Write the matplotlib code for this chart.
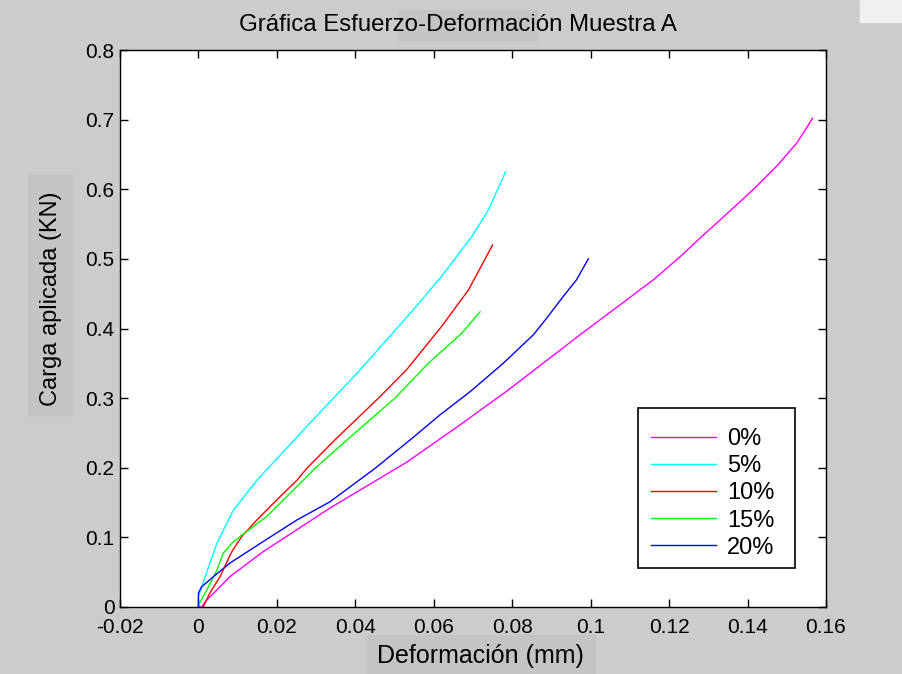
import matplotlib
matplotlib.use("Agg")
import matplotlib.pyplot as plt
from matplotlib.patches import Rectangle

plt.rcParams['font.family'] = ['Liberation Sans', 'DejaVu Sans']

# curvas: deformacion (mm) vs carga (KN)
def_0 = [0, 0.0008, 0.0021, 0.0046, 0.008, 0.0165, 0.0251, 0.0335, 0.0531, 0.0658, 0.0786,
         0.0973, 0.1075, 0.116, 0.1228, 0.1283, 0.1338, 0.1419, 0.1474, 0.1525, 0.1566]
carga_0 = [0, 0.0, 0.010, 0.024, 0.0435, 0.0795, 0.111, 0.142, 0.208, 0.258, 0.310,
           0.391, 0.434, 0.470, 0.503, 0.532, 0.560, 0.602, 0.633, 0.666, 0.702]

def_5 = [0, 0.0, 0.0017, 0.0047, 0.0089, 0.0149, 0.0284, 0.0408, 0.0548, 0.062, 0.0697, 0.0739, 0.0783]
carga_5 = [0, 0.015, 0.0435, 0.0915, 0.139, 0.182, 0.264, 0.338, 0.427, 0.475, 0.532, 0.570, 0.625]

def_10 = [0.0012, 0.0029, 0.0055, 0.0085, 0.011, 0.0149, 0.02, 0.0251, 0.0276, 0.0348,
          0.0459, 0.0531, 0.062, 0.0663, 0.0688, 0.075]
carga_10 = [0, 0.020, 0.0435, 0.0795, 0.101, 0.125, 0.154, 0.182, 0.199, 0.240,
            0.300, 0.341, 0.403, 0.436, 0.455, 0.520]

def_15 = [0, 0.0002, 0.0021, 0.0047, 0.0063, 0.0085, 0.011, 0.0174, 0.0267, 0.0297,
          0.0399, 0.0501, 0.0586, 0.0671, 0.0718]
carga_15 = [0, 0.005, 0.024, 0.053, 0.077, 0.0915, 0.103, 0.130, 0.182, 0.199,
            0.250, 0.300, 0.350, 0.393, 0.424]

def_20 = [0, 0, 0, 0.0008, 0.0038, 0.008, 0.0165, 0.0251, 0.0335, 0.045, 0.0544, 0.0616,
          0.0692, 0.0777, 0.0854, 0.0888, 0.093, 0.0964, 0.0994]
carga_20 = [0, 0.010, 0.020, 0.029, 0.0435, 0.063, 0.094, 0.125, 0.151, 0.199, 0.242, 0.276,
            0.309, 0.350, 0.391, 0.415, 0.446, 0.470, 0.500]

etiquetas = ['0%', '5%', '10%', '15%', '20%']
colores = ['#ff00ff', '#00ffff', '#ff0000', '#00ff00', '#0000ff']

xticks = [-0.02, 0, 0.02, 0.04, 0.06, 0.08, 0.1, 0.12, 0.14, 0.16]
xticklabels = ['-0.02', '0', '0.02', '0.04', '0.06', '0.08', '0.1', '0.12', '0.14', '0.16']
yticks = [0, 0.1, 0.2, 0.3, 0.4, 0.5, 0.6, 0.7, 0.8]
yticklabels = ['0', '0.1', '0.2', '0.3', '0.4', '0.5', '0.6', '0.7', '0.8']

fig = plt.figure(figsize=(9.03, 6.74), dpi=100, facecolor='#cccccc')

# recuadros de seleccion detras de los textos (pixeles -> coordenadas de figura)
W, H = 903, 674
for (x0, y0, x1, y1) in [(398, 10, 537, 40), (367, 635, 595, 674), (28, 175, 72, 415)]:
    fig.patches.append(Rectangle((x0 / W, 1 - y1 / H), (x1 - x0) / W, (y1 - y0) / H,
                                 transform=fig.transFigure, color='#c4c4c4', zorder=0))
fig.patches.append(Rectangle((860 / W, 1 - 22 / H), 43 / W, 22 / H,
                             transform=fig.transFigure, color='#f0f0f0', zorder=0))

ax = fig.add_axes([120 / W, 1 - 607 / H, 706 / W, 557 / H])
ax.set_zorder(2)
datos = [(def_0, carga_0), (def_5, carga_5), (def_10, carga_10), (def_15, carga_15), (def_20, carga_20)]
for (xs, ys), lab, c in zip(datos, etiquetas, colores):
    ax.plot(xs, ys, color=c, lw=1.0, label=lab)

ax.set_xlim(-0.02, 0.16)
ax.set_ylim(0, 0.8)
ax.set_xticks(xticks)
ax.set_xticklabels(xticklabels)
ax.set_yticks(yticks)
ax.set_yticklabels(yticklabels)
ax.tick_params(direction='in', top=True, right=True, length=6, width=1, labelsize=15, colors='black')
ax.tick_params(axis='x', pad=8)
ax.tick_params(axis='y', pad=4)
for s in ax.spines.values():
    s.set_linewidth(1.0)

ax.set_title('Gráfica Esfuerzo-Deformación Muestra A', fontsize=17.3, pad=14, x=0.479)
ax.set_xlabel('Deformación (mm)', fontsize=18, labelpad=5)
ax.xaxis.label.set_x(0.5106)
ax.set_ylabel('Carga aplicada (KN)', fontsize=17, labelpad=17)
ax.yaxis.label.set_y(0.554)

# marco de la leyenda como en matlab (mas ancho que el texto)
ax.add_patch(Rectangle((0.7337, 0.070), 0.2223, 0.2873, transform=ax.transAxes,
                       facecolor='white', edgecolor='black', lw=1.2, zorder=4))
leg = ax.legend(loc='upper left', bbox_to_anchor=(0.752, 0.3214), fontsize=17,
                frameon=False, handlelength=2.75, handletextpad=0.47,
                labelspacing=0.22, borderpad=0, borderaxespad=0)
leg.set_zorder(5)

fig.savefig('out.png', dpi=100, facecolor=fig.get_facecolor())
